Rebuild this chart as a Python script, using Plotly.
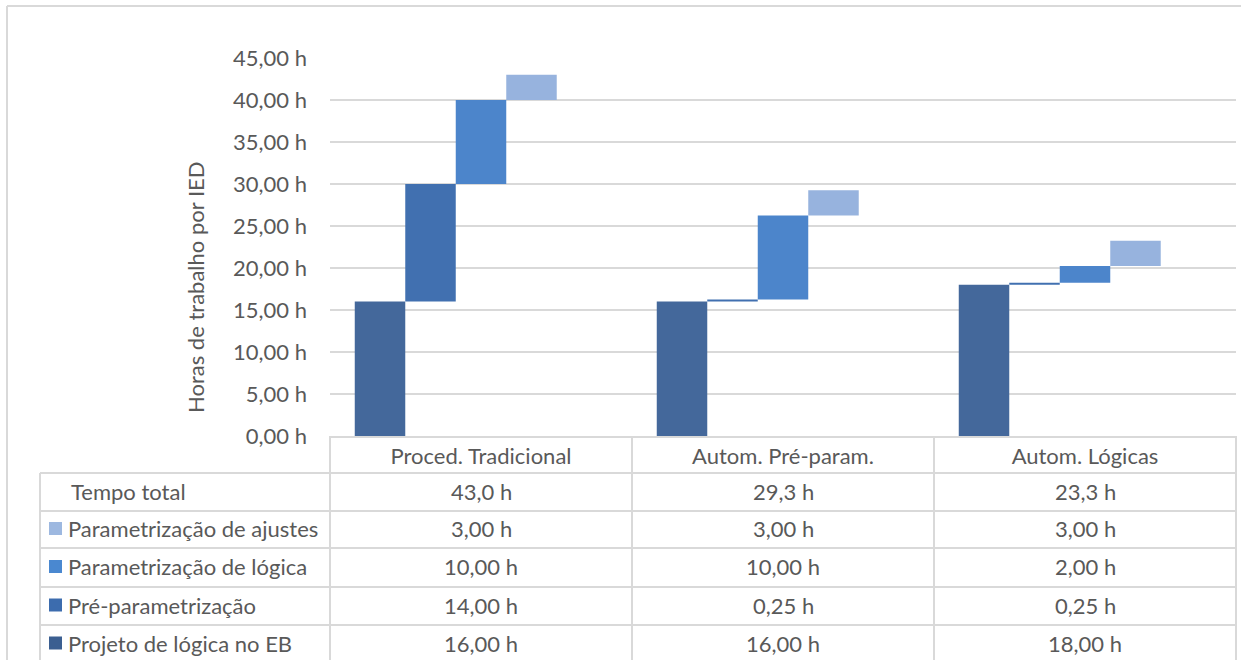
import plotly.graph_objects as go
from decimal import Decimal, ROUND_HALF_UP

categories = ["Proced. Tradicional", "Autom. Pré-param.", "Autom. Lógicas"]
series_names = ["Projeto de lógica no EB", "Pré-parametrização",
                "Parametrização de lógica", "Parametrização de ajustes"]
projeto = [16.00, 16.00, 18.00]
pre_param = [14.00, 0.25, 0.25]
param_logica = [10.00, 10.00, 2.00]
param_ajustes = [3.00, 3.00, 3.00]
series_values = [projeto, pre_param, param_logica, param_ajustes]
bar_colors = ["#44689b", "#4170b0", "#4c85cb", "#97b3de"]
key_colors = ["#3b5f91", "#3c6cae", "#4a88d0", "#9db8e0"]
y_ticks = [0, 5, 10, 15, 20, 25, 30, 35, 40, 45]
y_title = "Horas de trabalho por IED"

totals = [sum(v[i] for v in series_values) for i in range(len(categories))]

FONT = "Lato"
TXT = "#595959"
GRID = "#d9d9d9"
FS = 22

def fmt(v, d):
    q = Decimal(1).scaleb(-d)
    s = str(Decimal(str(v)).quantize(q, rounding=ROUND_HALF_UP))
    return s.replace(".", ",") + " h"

fig = go.Figure()
cum = [0.0] * len(categories)
for name, vals, col in zip(series_names, series_values, bar_colors):
    fig.add_trace(go.Bar(x=categories, y=vals, base=list(cum), name=name,
                         marker=dict(color=col, line=dict(width=0))))
    cum = [c + v for c, v in zip(cum, vals)]
# invisible "Tempo total" series (keeps Excel's 5-slot grouping)
fig.add_trace(go.Bar(x=categories, y=totals, name="Tempo total",
                     marker=dict(color="white", opacity=0, line=dict(width=0)),
                     hoverinfo="skip"))

# pixel helpers for the data table drawn below the plot
L, R, T, B = 330, 1236, 58, 436
def px(x): return (x - L) / (R - L)
def py(y): return (B - y) / (B - T)

shapes = []
def hline(x0, x1, y, w=2):
    shapes.append(dict(type="line", xref="paper", yref="paper",
                       x0=px(x0), x1=px(x1), y0=py(y), y1=py(y),
                       line=dict(color=GRID, width=w)))
def vline(x, y0, y1, w=2):
    shapes.append(dict(type="line", xref="paper", yref="paper",
                       x0=px(x), x1=px(x), y0=py(y0), y1=py(y1),
                       line=dict(color=GRID, width=w)))

# outer chart border (top & left visible)
hline(7, 1241, 6)
vline(7, 6, 660)

rows_y = [436, 473, 511, 548, 587, 625, 663]
col_x = [330, 632, 934, 1236]
for y in rows_y[1:-1]:
    hline(40, 1236, y)
for x in col_x:
    vline(x, 436, 663)
vline(40, 473, 663)

annotations = []
# y-axis title (placed like Excel's)
annotations.append(dict(xref="paper", yref="paper", x=px(195), y=py(288),
                        text=y_title, textangle=-90, showarrow=False,
                        xanchor="center", yanchor="middle",
                        font=dict(family=FONT, size=FS, color=TXT)))

row_labels = ["Tempo total"] + series_names[::-1]
row_vals = [[fmt(t, 1) for t in totals]] + [[fmt(v, 2) for v in vals] for vals in series_values[::-1]]
row_keys = [None] + key_colors[::-1]
for r, (lab, vals, kc) in enumerate(zip(row_labels, row_vals, row_keys)):
    yc = (rows_y[r + 1] + rows_y[r + 2]) / 2 - 1
    if kc is None:
        annotations.append(dict(xref="paper", yref="paper", x=px(69), y=py(yc),
                                text=lab, showarrow=False, xanchor="left", yanchor="middle",
                                font=dict(family=FONT, size=FS, color=TXT)))
    else:
        shapes.append(dict(type="rect", xref="paper", yref="paper",
                           x0=px(49), x1=px(62), y0=py(yc + 6.5), y1=py(yc - 6.5),
                           fillcolor=kc, line=dict(width=0)))
        annotations.append(dict(xref="paper", yref="paper", x=px(66), y=py(yc),
                                text=lab, showarrow=False, xanchor="left", yanchor="middle",
                                font=dict(family=FONT, size=FS, color=TXT)))
    for c, v in enumerate(vals):
        xc = (col_x[c] + col_x[c + 1]) / 2
        annotations.append(dict(xref="paper", yref="paper", x=px(xc), y=py(yc),
                                text=v, showarrow=False, xanchor="center", yanchor="middle",
                                font=dict(family=FONT, size=FS, color=TXT)))

fig.update_layout(
    width=1241, height=660,
    margin=dict(l=L, r=1241 - R, t=T, b=660 - B, pad=0),
    barmode="group", bargap=0.164, bargroupgap=0,
    showlegend=False,
    plot_bgcolor="white", paper_bgcolor="white",
    font=dict(family=FONT, size=FS, color=TXT),
    shapes=shapes, annotations=annotations,
    xaxis=dict(showgrid=False, showline=True, linecolor=GRID, linewidth=2,
               ticks="", ticklabelstandoff=0,
               tickfont=dict(family=FONT, size=FS, color=TXT)),
    yaxis=dict(range=[0, 45], tickvals=y_ticks, ticktext=[fmt(t, 2) for t in y_ticks],
               showgrid=True, gridcolor=GRID, gridwidth=1.5, zeroline=False,
               showline=False, ticks="", ticklabelstandoff=22,
               tickfont=dict(family=FONT, size=FS, color=TXT)),
)

fig.write_html("out.html")
